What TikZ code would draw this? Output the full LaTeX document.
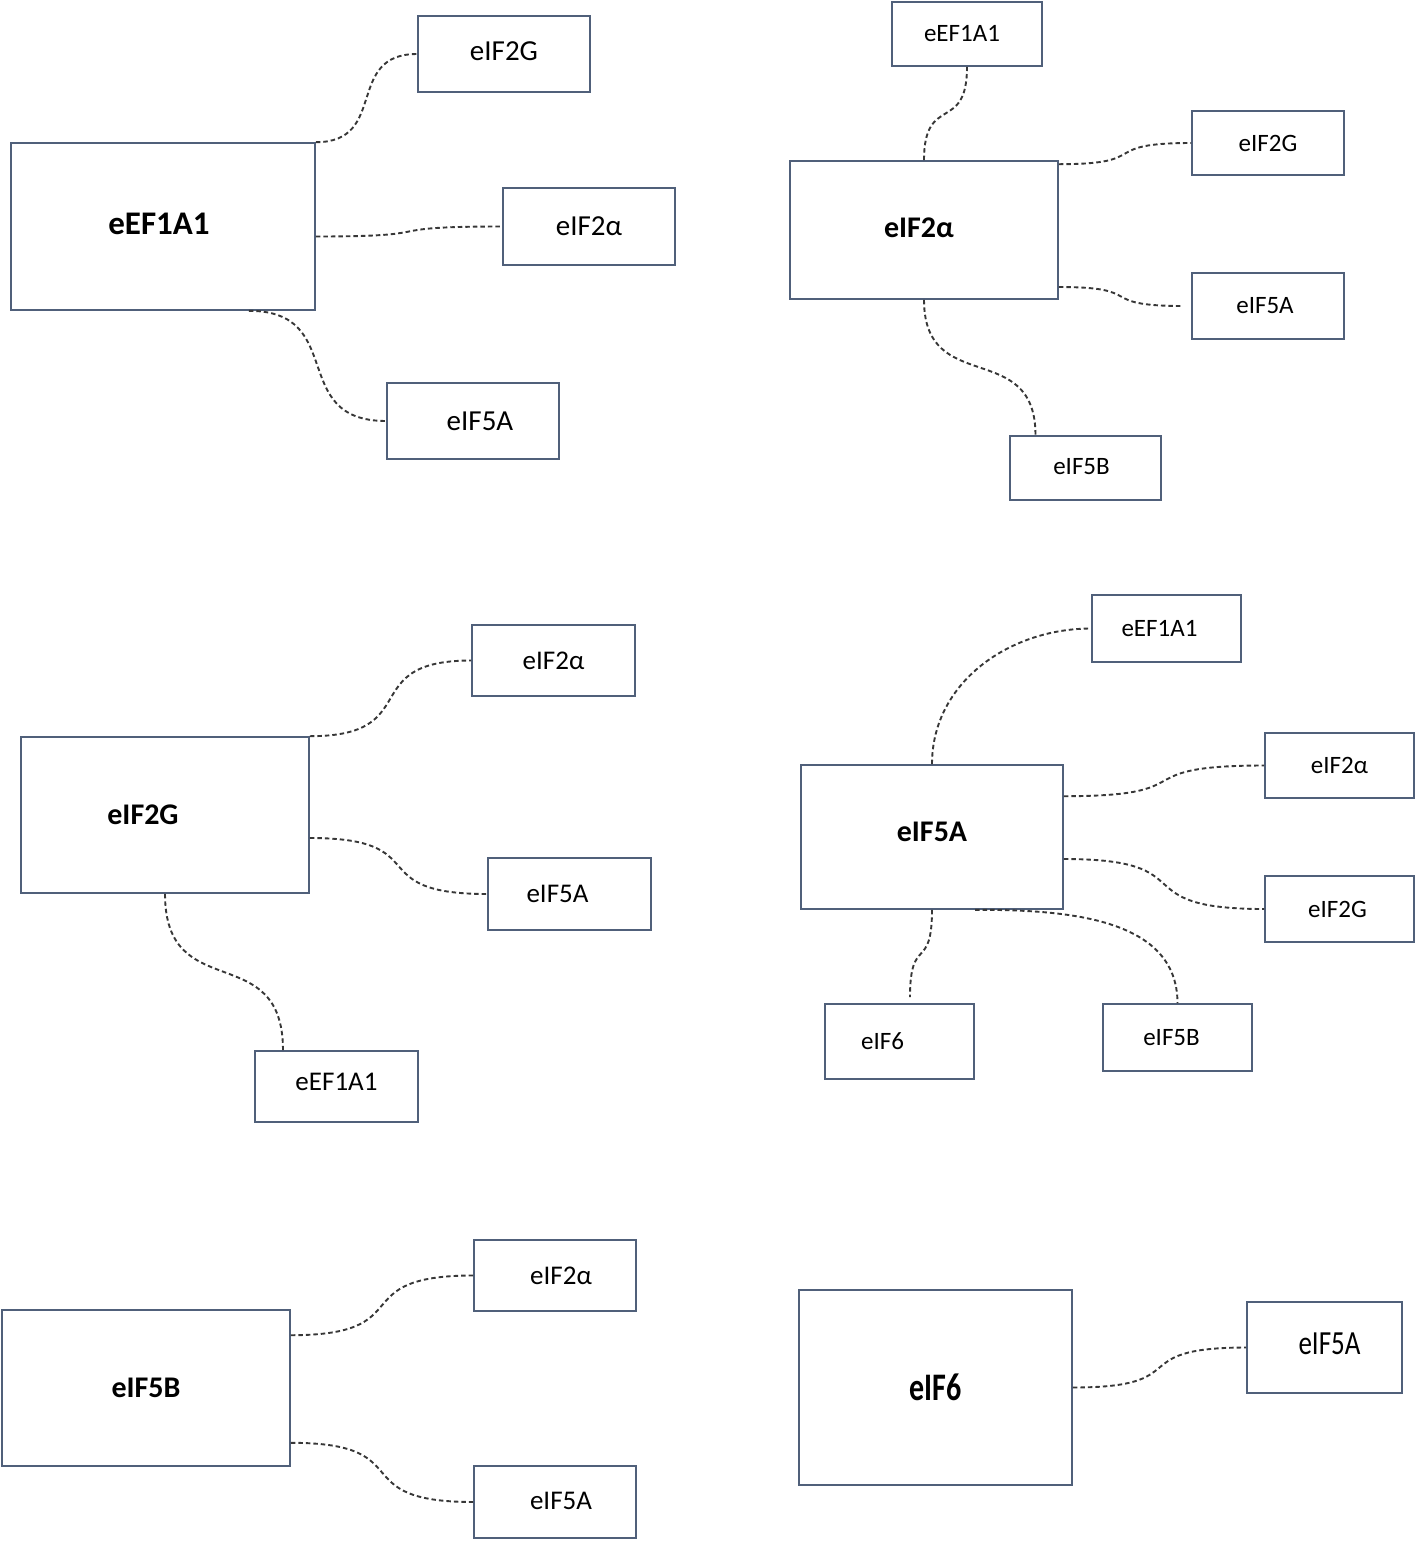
\documentclass[tikz,border=0pt]{standalone}
\usepackage{fontspec}
\setmainfont{Carlito}
\usetikzlibrary{calc}
\definecolor{FrameSlate}{RGB}{80,96,122}
\definecolor{LinkGrey}{RGB}{55,55,55}
\tikzset{
  hub/.style={draw=FrameSlate,line width=1.6pt,inner sep=0pt,
    font=\fontsize{30}{36}\selectfont\bfseries},
  box/.style={draw=FrameSlate,line width=1.6pt,inner sep=0pt,
    font=\fontsize{27}{32}\selectfont},
  smallbox/.style={box,font=\fontsize{25}{30}\selectfont},
  link/.style={draw=LinkGrey,line width=1.9pt,dash pattern=on 4.5pt off 3pt},
  hlink/.style={link,to path={.. controls ($(\tikztostart)!0.72!(\tikztotarget |- \tikztostart)$)
    and ($(\tikztotarget)!0.72!(\tikztostart |- \tikztotarget)$) .. (\tikztotarget)}},
  vlink/.style={link,to path={.. controls ($(\tikztostart)!0.72!(\tikztostart |- \tikztotarget)$)
    and ($(\tikztotarget)!0.72!(\tikztotarget |- \tikztostart)$) .. (\tikztotarget)}}
}

\begin{document}
\begin{tikzpicture}[x=1pt,y=-1pt]
  \useasboundingbox (0,0) rectangle (1416,1543);

  % eEF1A1 and partners
  \node[hub,font=\fontsize{33}{38}\selectfont\bfseries,minimum width=304pt,minimum height=167pt] (ef1a) at (163,226.5) {\raisebox{6pt}{\hspace*{-8pt}eEF1A1}};
  \node[box,font=\fontsize{29}{34}\selectfont,minimum width=172pt,minimum height=76pt] (ef1a-2g) at (504,54) {\raisebox{5pt}{eIF2G}};
  \node[box,font=\fontsize{29}{34}\selectfont,minimum width=172pt,minimum height=77pt] (ef1a-2a) at (589,226.5) {eIF2α};
  \node[box,font=\fontsize{29}{34}\selectfont,minimum width=172pt,minimum height=76pt] (ef1a-5a) at (473,421) {\raisebox{-9pt}{\hspace*{14pt}eIF5A}};
  \draw[hlink] (ef1a.north east) to (ef1a-2g.west);
  \draw[hlink] ([yshift=-10pt]ef1a.east) to (ef1a-2a.west);
  \draw[hlink] ([xshift=-67pt]ef1a.south east) to (ef1a-5a.west);

  % eIF2alpha and partners
  \node[hub,minimum width=268pt,minimum height=138pt] (f2a) at (924,230) {\raisebox{5pt}{\hspace*{-10pt}eIF2α}};
  \node[smallbox,minimum width=150pt,minimum height=64pt] (f2a-ef) at (967,34) {\hspace*{-10pt}eEF1A1};
  \node[smallbox,minimum width=152pt,minimum height=64pt] (f2a-2g) at (1268,143) {eIF2G};
  \node[smallbox,minimum width=152pt,minimum height=66pt] (f2a-5a) at (1268,306) {\hspace*{-6pt}eIF5A};
  \node[smallbox,minimum width=151pt,minimum height=64pt] (f2a-5b) at (1085.5,468) {\raisebox{4pt}{\hspace*{-8pt}eIF5B}};
  \draw[vlink] (f2a.north) to (f2a-ef.south);
  \draw[hlink] ([yshift=-4pt]f2a.north east) to (f2a-2g.west);
  \draw[hlink] ([yshift=-57pt]f2a.east) to ([xshift=-8pt]f2a-5a.west);
  \draw[vlink] (f2a.south) to ([xshift=-50pt]f2a-5b.north);

  % eIF2G and partners
  \node[hub,minimum width=288pt,minimum height=156pt] (f2g) at (165,815) {\raisebox{-4pt}{\hspace*{-44pt}eIF2G}};
  \node[box,minimum width=163pt,minimum height=71pt] (f2g-2a) at (553.5,660.5) {eIF2α};
  \node[box,minimum width=163pt,minimum height=72pt] (f2g-5a) at (569.5,894) {\hspace*{-24pt}eIF5A};
  \node[box,minimum width=163pt,minimum height=71pt] (f2g-ef) at (336.5,1086.5) {\raisebox{9pt}{eEF1A1}};
  \draw[hlink] (f2g.north east) to (f2g-2a.west);
  \draw[hlink] ([yshift=-23pt]f2g.east) to (f2g-5a.west);
  \draw[vlink] (f2g.south) to ([xshift=-53.5pt]f2g-ef.north);

  % eIF5A and partners
  \node[hub,minimum width=262pt,minimum height=144pt] (f5a) at (932,837) {\raisebox{11pt}{eIF5A}};
  \node[smallbox,minimum width=149pt,minimum height=67pt] (f5a-ef) at (1166.5,628.5) {\raisebox{-2pt}{\hspace*{-14pt}eEF1A1}};
  \node[smallbox,minimum width=149pt,minimum height=65pt] (f5a-2a) at (1339.5,765.5) {\raisebox{-2pt}{eIF2α}};
  \node[smallbox,minimum width=149pt,minimum height=66pt] (f5a-2g) at (1339.5,909) {\hspace*{-4pt}eIF2G};
  \node[smallbox,minimum width=149pt,minimum height=75pt] (f5a-f6) at (899.5,1041.5) {\raisebox{-5pt}{\hspace*{-34pt}eIF6}};
  \node[smallbox,minimum width=149pt,minimum height=67pt] (f5a-5b) at (1177.5,1037.5) {\raisebox{-3pt}{\hspace*{-12pt}eIF5B}};
  \draw[link] (f5a.north) to[out=90,in=180] (f5a-ef.west);
  \draw[hlink] ([yshift=-32pt]f5a.north east) to (f5a-2a.west);
  \draw[hlink] ([yshift=-22pt]f5a.east) to (f5a-2g.west);
  \draw[vlink] (f5a.south) to ([xshift=10.5pt,yshift=6pt]f5a-f6.north);
  \draw[link] ([xshift=43pt]f5a.south) to[out=0,in=90] (f5a-5b.north);

  % eIF5B and partners
  \node[hub,minimum width=288pt,minimum height=156pt] (f5b) at (146,1388) {eIF5B};
  \node[box,minimum width=162pt,minimum height=71pt] (f5b-2a) at (555,1275.5) {\hspace*{12pt}eIF2α};
  \node[box,minimum width=162pt,minimum height=72pt] (f5b-5a) at (555,1502) {\raisebox{2pt}{\hspace*{12pt}eIF5A}};
  \draw[hlink] ([yshift=-26pt]f5b.north east) to (f5b-2a.west);
  \draw[hlink] ([yshift=24pt]f5b.south east) to (f5b-5a.west);

  % eIF6 and partner
  \node[hub,minimum width=273pt,minimum height=195pt] (f6) at (935.5,1387.5) {\raisebox{-5pt}{\scalebox{1}[1.3]{eIF6}}};
  \node[box,minimum width=155pt,minimum height=91pt] (f6-5a) at (1324.5,1347.5) {\raisebox{8pt}{\hspace*{10pt}\scalebox{1}[1.25]{eIF5A}}};
  \draw[hlink] (f6.east) to (f6-5a.west);
\end{tikzpicture}
\end{document}
